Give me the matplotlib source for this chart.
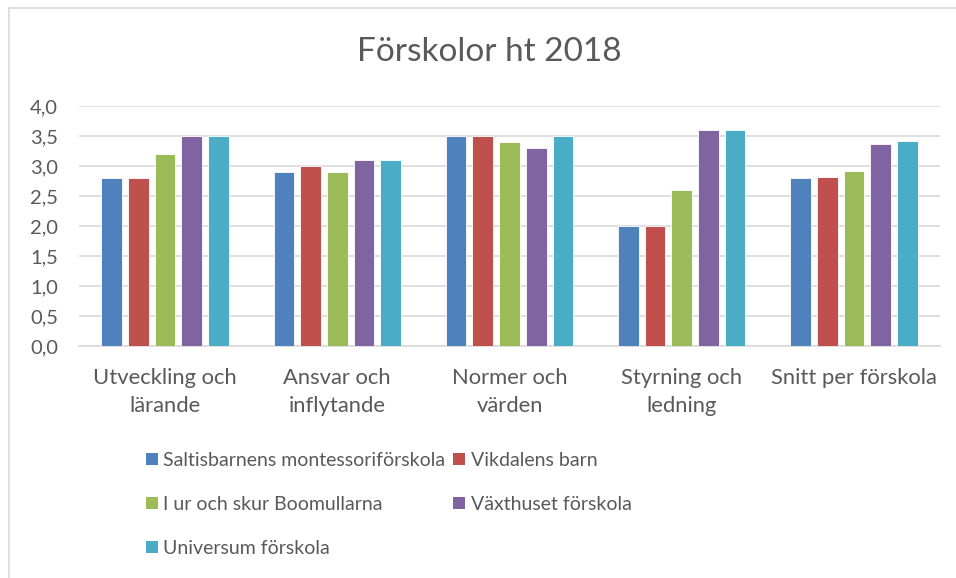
import matplotlib
matplotlib.use("Agg")
import matplotlib.pyplot as plt
import numpy as np
from matplotlib.patches import Patch
from matplotlib.lines import Line2D

plt.rcParams['font.family'] = ['Lato', 'DejaVu Sans']

categories = ["Utveckling och\nlärande", "Ansvar och\ninflytande", "Normer och\nvärden",
              "Styrning och\nledning", "Snitt per förskola"]
series_names = ["Saltisbarnens montessoriförskola", "Vikdalens barn",
                "I ur och skur Boomullarna", "Växthuset förskola", "Universum förskola"]
saltis = [2.8, 2.9, 3.5, 2.0, 2.8]
vikdalen = [2.8, 3.0, 3.5, 2.0, 2.82]
boomullarna = [3.2, 2.9, 3.4, 2.6, 2.92]
vaxthuset = [3.5, 3.1, 3.3, 3.6, 3.37]
universum = [3.5, 3.1, 3.5, 3.6, 3.42]
series_values = [saltis, vikdalen, boomullarna, vaxthuset, universum]
colors = ["#4F81BD", "#C0504D", "#9BBB59", "#8064A2", "#4BACC6"]
yticks = [0.0, 0.5, 1.0, 1.5, 2.0, 2.5, 3.0, 3.5, 4.0]
ytick_labels = ["0,0", "0,5", "1,0", "1,5", "2,0", "2,5", "3,0", "3,5", "4,0"]

W, H = 956, 578
fig = plt.figure(figsize=(W / 100, H / 100), dpi=100)
ax = fig.add_axes([79 / W, 1 - 346 / H, (940 - 79) / W, (346 - 106) / H])

text_color = "#595959"
x = np.arange(len(categories))
step = 0.155
width = 0.12
for i, (name, vals, c) in enumerate(zip(series_names, series_values, colors)):
    ax.bar(x + (i - 2) * step, vals, width=width, color=c, edgecolor='white',
           linewidth=0.6, zorder=3, label=name)

ax.set_xlim(-0.5, len(categories) - 0.5)
ax.set_ylim(0, 4.0)
ax.set_yticks(yticks)
ax.set_yticklabels(ytick_labels)
ax.set_xticks(x)
ax.set_xticklabels(categories, linespacing=1.5)
ax.tick_params(axis='y', length=0, pad=15, labelsize=14.5, labelcolor=text_color)
ax.tick_params(axis='x', length=0, pad=16, labelsize=15.8, labelcolor=text_color)
ax.grid(axis='y', color="#D9D9D9", linewidth=1.2, zorder=0)
for s in ['top', 'right', 'left']:
    ax.spines[s].set_visible(False)
ax.spines['bottom'].set_color("#D9D9D9")
ax.spines['bottom'].set_linewidth(1.2)

fig.text(489 / W, 1 - 52 / H, "Förskolor ht 2018", ha='center', va='center',
         fontsize=24, color=text_color)

order = [0, 2, 4, 1, 3]
hs = [Patch(facecolor=colors[i], edgecolor='none') for i in order]
ls = [series_names[i] for i in order]
leg = fig.legend(hs, ls, ncol=2, loc='upper left', bbox_to_anchor=(146 / W, 1 - 452 / H),
                 frameon=False, fontsize=14, handlelength=0.6, handleheight=0.6,
                 handletextpad=0.28, columnspacing=0.42, labelspacing=1.38,
                 borderaxespad=0, borderpad=0)
for t in leg.get_texts():
    t.set_color(text_color)

# outer chart border
fig.add_artist(Line2D([8.5 / W, 8.5 / W], [0, 1 - 7.5 / H], transform=fig.transFigure,
                      color="#D9D9D9", linewidth=1.2))
fig.add_artist(Line2D([8.5 / W, 1], [1 - 7.5 / H, 1 - 7.5 / H], transform=fig.transFigure,
                      color="#D9D9D9", linewidth=1.2))

fig.savefig("out.png", dpi=100, facecolor='white')
